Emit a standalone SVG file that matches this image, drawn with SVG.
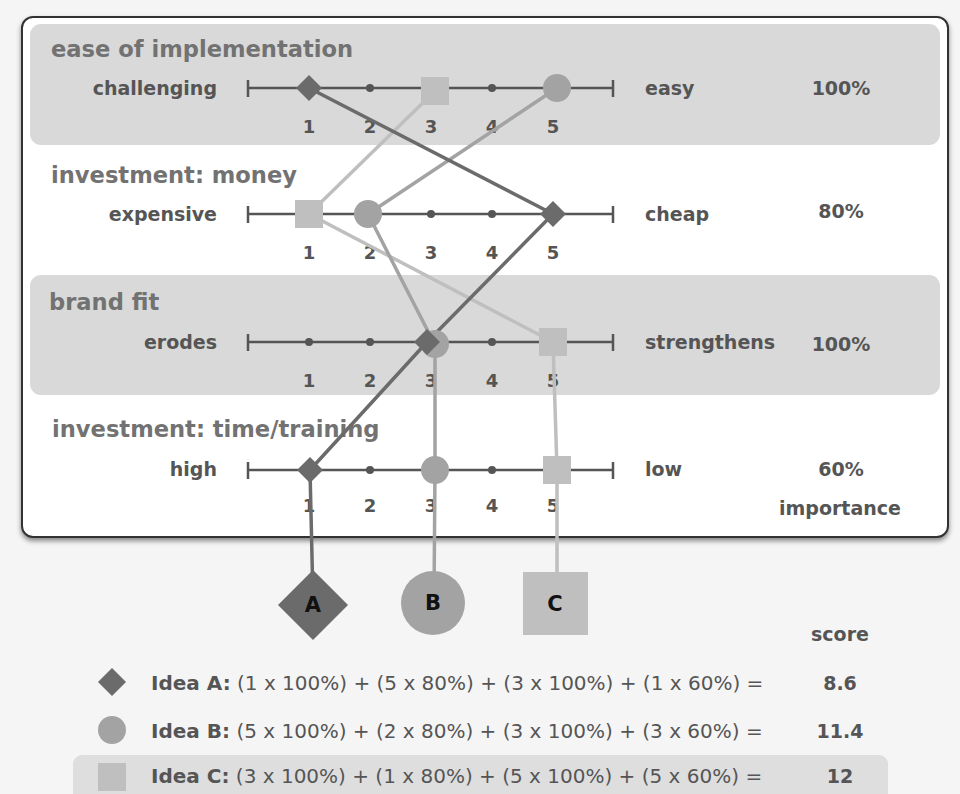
<svg xmlns="http://www.w3.org/2000/svg" width="960" height="794" viewBox="0 0 960 794">
  <defs>
    <filter id="shadow" x="-5%" y="-5%" width="110%" height="115%">
      <feDropShadow dx="0" dy="3" stdDeviation="2.5" flood-color="#000" flood-opacity="0.45"/>
    </filter>
    <style>
      text { font-family: "DejaVu Sans", "Liberation Sans", sans-serif; }
      .title { font-size: 22.6px; font-weight: bold; fill: #727272; }
      .lab { font-size: 19px; font-weight: bold; fill: #555; }
      .end { text-anchor: end; }
      .mid { text-anchor: middle; }
      .num { font-size: 18px; font-weight: bold; fill: #555; text-anchor: middle; }
      .formula { font-size: 20px; fill: #555; }
      .formula tspan.b { font-weight: bold; }
      .big { font-size: 21px; font-weight: bold; fill: #111; text-anchor: middle; }
      .band { fill: #d9d9d9; }
      .axis { stroke: #555; stroke-width: 2.5; fill: none; }
      .dot { fill: #555; }
      .ka { fill: #6b6b6b; }
      .kb { fill: #a3a3a3; }
      .kc { fill: #bfbfbf; }
      .la { stroke: #6b6b6b; }
      .lb { stroke: #a3a3a3; }
      .lc { stroke: #bfbfbf; }
      .conn { stroke-width: 3.5; fill: none; stroke-linejoin: round; }
    </style>
  </defs>

  <!-- page background -->
  <rect x="0" y="0" width="960" height="794" fill="#f5f5f5"/>

  <!-- main criteria panel -->
  <rect x="22" y="17" width="926" height="520" rx="11" fill="#fff" stroke="#333" stroke-width="2" filter="url(#shadow)"/>
  <rect class="band" x="30" y="24" width="910" height="121" rx="11"/>
  <rect class="band" x="30" y="275" width="910" height="120" rx="11"/>

  <!-- criterion 1 -->
  <g id="criterion-ease">
    <text class="title" x="51" y="57">ease of implementation</text>
    <text class="lab end" x="217" y="95">challenging</text>
    <text class="lab" x="645" y="95">easy</text>
    <text class="lab mid" x="841" y="95">100%</text>
    <path class="axis" d="M248 88 H613 M248 80 V97 M613 80 V97"/>
    <circle class="dot" cx="370" cy="88" r="4"/>
    <circle class="dot" cx="492" cy="88" r="4"/>
    <text class="num" x="309" y="133">1</text>
    <text class="num" x="370" y="133">2</text>
    <text class="num" x="431" y="133">3</text>
    <text class="num" x="492" y="133">4</text>
    <text class="num" x="553" y="133">5</text>
  </g>

  <!-- criterion 2 -->
  <g id="criterion-money">
    <text class="title" x="51" y="183">investment: money</text>
    <text class="lab end" x="217" y="221">expensive</text>
    <text class="lab" x="645" y="221">cheap</text>
    <text class="lab mid" x="841" y="218">80%</text>
    <path class="axis" d="M248 214 H613 M248 206 V223 M613 206 V223"/>
    <circle class="dot" cx="431" cy="214" r="4"/>
    <circle class="dot" cx="492" cy="214" r="4"/>
    <text class="num" x="309" y="259">1</text>
    <text class="num" x="370" y="259">2</text>
    <text class="num" x="431" y="259">3</text>
    <text class="num" x="492" y="259">4</text>
    <text class="num" x="553" y="259">5</text>
  </g>

  <!-- criterion 3 -->
  <g id="criterion-brand">
    <text class="title" x="49" y="310">brand fit</text>
    <text class="lab end" x="217" y="349">erodes</text>
    <text class="lab" x="645" y="349">strengthens</text>
    <text class="lab mid" x="841" y="351">100%</text>
    <path class="axis" d="M248 342 H613 M248 334 V351 M613 334 V351"/>
    <circle class="dot" cx="309" cy="342" r="4"/>
    <circle class="dot" cx="370" cy="342" r="4"/>
    <circle class="dot" cx="492" cy="342" r="4"/>
    <text class="num" x="309" y="387">1</text>
    <text class="num" x="370" y="387">2</text>
    <text class="num" x="431" y="387">3</text>
    <text class="num" x="492" y="387">4</text>
    <text class="num" x="553" y="387">5</text>
  </g>

  <!-- criterion 4 -->
  <g id="criterion-time">
    <text class="title" x="52" y="437">investment: time/training</text>
    <text class="lab end" x="217" y="476">high</text>
    <text class="lab" x="645" y="476">low</text>
    <text class="lab mid" x="841" y="476">60%</text>
    <text class="lab mid" x="840" y="515">importance</text>
    <path class="axis" d="M248 470 H613 M248 462 V479 M613 462 V479"/>
    <circle class="dot" cx="370" cy="470" r="4"/>
    <circle class="dot" cx="492" cy="470" r="4"/>
    <text class="num" x="309" y="512">1</text>
    <text class="num" x="370" y="512">2</text>
    <text class="num" x="431" y="512">3</text>
    <text class="num" x="492" y="512">4</text>
    <text class="num" x="553" y="512">5</text>
  </g>

  <!-- idea paths through the ratings -->
  <g id="connectors">
    <polyline class="conn lc" points="435,91 309,214 553,342 557,470 557,600"/>
    <polyline class="conn lb" points="557,88 368,214 435,345 435,470 434,600"/>
    <polyline class="conn la" points="309,88 553,214 427,342 310,470 313,600"/>
  </g>

  <!-- rating markers -->
  <g id="markers-c">
    <rect class="kc" x="421" y="77" width="28" height="28"/>
    <rect class="kc" x="295" y="200" width="28" height="28"/>
    <rect class="kc" x="539" y="328" width="28" height="28"/>
    <rect class="kc" x="543" y="456" width="28" height="28"/>
  </g>
  <g id="markers-b">
    <circle class="kb" cx="557" cy="88" r="14"/>
    <circle class="kb" cx="368" cy="214" r="14"/>
    <circle class="kb" cx="435" cy="344" r="14"/>
    <circle class="kb" cx="435" cy="470" r="14"/>
  </g>
  <g id="markers-a">
    <polygon class="ka" points="309,75 322,88 309,101 296,88"/>
    <polygon class="ka" points="553,201 566,214 553,227 540,214"/>
    <polygon class="ka" points="427,329 440,342 427,355 414,342"/>
    <polygon class="ka" points="310,457 323,470 310,483 297,470"/>
  </g>

  <!-- idea nodes -->
  <g id="idea-a">
    <polygon class="ka" points="313,570 348,605 313,640 278,605"/>
    <text class="big" x="313" y="612">A</text>
  </g>
  <g id="idea-b">
    <circle class="kb" cx="433" cy="603" r="32"/>
    <text class="big" x="433" y="610">B</text>
  </g>
  <g id="idea-c">
    <rect class="kc" x="523" y="572" width="65" height="63"/>
    <text class="big" x="555" y="611">C</text>
  </g>

  <!-- score table -->
  <g id="scores">
    <text class="lab mid" x="840" y="641">score</text>
    <rect x="73" y="755" width="815" height="50" rx="9" fill="#dedede"/>

    <polygon class="ka" points="112,668 126,682 112,696 98,682"/>
    <text class="formula" x="151" y="690"><tspan class="b">Idea A:</tspan> (1 x 100%) + (5 x 80%) + (3 x 100%) + (1 x 60%) =</text>
    <text class="lab mid" x="840" y="690">8.6</text>

    <circle class="kb" cx="112" cy="730" r="14"/>
    <text class="formula" x="151" y="738"><tspan class="b">Idea B:</tspan> (5 x 100%) + (2 x 80%) + (3 x 100%) + (3 x 60%) =</text>
    <text class="lab mid" x="840" y="738">11.4</text>

    <rect class="kc" x="98" y="763" width="28" height="28"/>
    <text class="formula" x="151" y="783"><tspan class="b">Idea C:</tspan> (3 x 100%) + (1 x 80%) + (5 x 100%) + (5 x 60%) =</text>
    <text class="lab mid" x="840" y="783">12</text>
  </g>
</svg>
